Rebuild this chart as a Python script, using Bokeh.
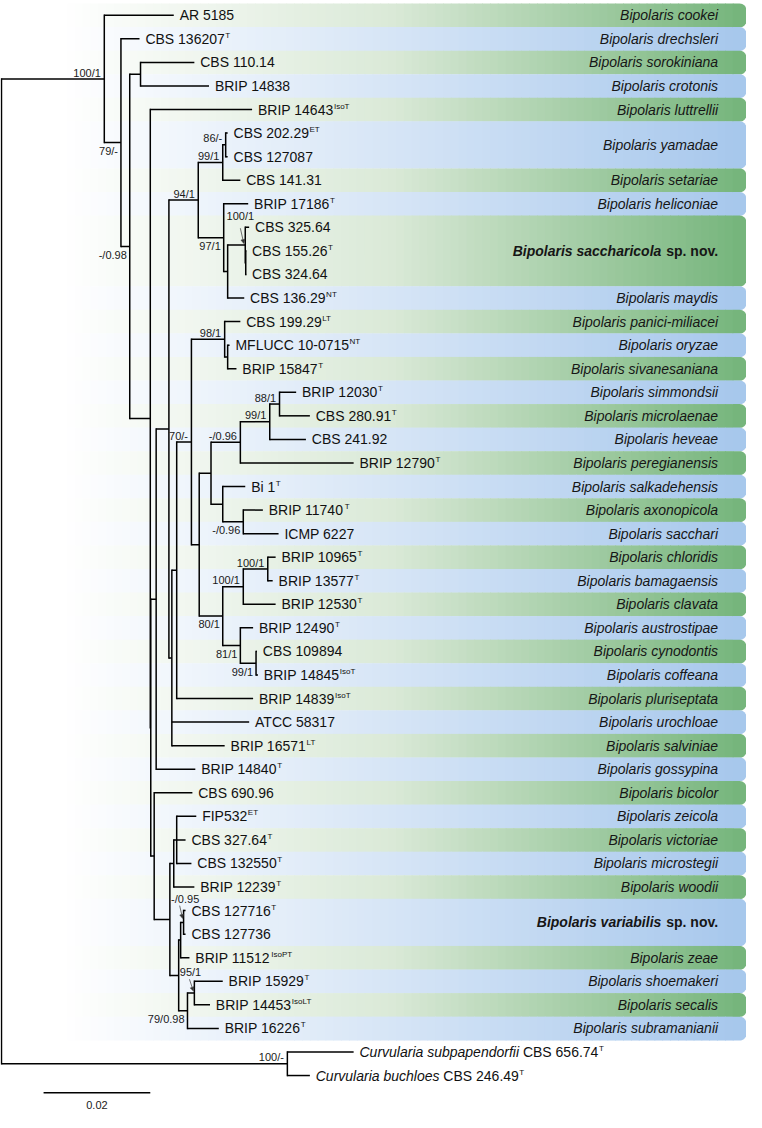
import math
from bokeh.plotting import figure
from bokeh.models import Range1d, Arrow, NormalHead
from bokeh.core.properties import value
from bokeh.embed import file_html
from bokeh.resources import INLINE

# ---------------------------------------------------------------- data
leaf_names = ["AR 5185", "CBS 136207", "CBS 110.14", "BRIP 14838", "BRIP 14643",
              "CBS 202.29", "CBS 127087", "CBS 141.31", "BRIP 17186", "CBS 325.64",
              "CBS 155.26", "CBS 324.64", "CBS 136.29", "CBS 199.29", "MFLUCC 10-0715",
              "BRIP 15847", "BRIP 12030", "CBS 280.91", "CBS 241.92", "BRIP 12790",
              "Bi 1", "BRIP 11740", "ICMP 6227", "BRIP 10965", "BRIP 13577",
              "BRIP 12530", "BRIP 12490", "CBS 109894", "BRIP 14845", "BRIP 14839",
              "ATCC 58317", "BRIP 16571", "BRIP 14840", "CBS 690.96", "FIP532",
              "CBS 327.64", "CBS 132550", "BRIP 12239", "CBS 127716", "CBS 127736",
              "BRIP 11512", "BRIP 15929", "BRIP 14453", "BRIP 16226",
              "CBS 656.74", "CBS 246.49"]
leaf_prefix = [""] * 44 + ["Curvularia subpapendorfii", "Curvularia buchloes"]
leaf_sup = ["", "T", "", "", "IsoT", "ET", "", "", "T", "", "T", "", "NT", "LT", "NT",
            "T", "T", "T", "", "T", "T", "T", "", "T", "T", "T", "T", "", "IsoT", "IsoT",
            "", "LT", "T", "", "ET", "T", "T", "T", "T", "", "IsoPT", "T", "IsoLT", "T",
            "T", "T"]
leaf_parent = ["A", "B", "D", "D", "E", "N86", "N86", "N99a", "N97", "S100",
               "S100i", "S100i", "M", "N98", "N98i", "N98i", "N88", "N88", "N99b", "N096a",
               "U", "N096b", "N096b", "N100b", "N100b", "N100a", "N81", "N99c", "N99c", "V",
               "W", "W", "F", "H", "AB", "AB", "AB", "AC", "N095", "N095",
               "Z", "N95", "N95", "N7998", "CURV", "CURV"]
leaf_depth = [0.03229, 0.02587, 0.03615, 0.03890, 0.04697, 0.04239, 0.04239, 0.04477,
              0.04624, 0.04642, 0.04587, 0.04587, 0.04550, 0.04477, 0.04275, 0.04404,
              0.05523, 0.05780, 0.05706, 0.06600, 0.04569, 0.04899, 0.05193, 0.05138,
              0.05083, 0.05138, 0.04716, 0.04789, 0.04807, 0.04716, 0.04642, 0.04183,
              0.03633, 0.03578, 0.03651, 0.03450, 0.03560, 0.03615, 0.03450, 0.03450,
              0.03523, 0.04147, 0.03908, 0.04073, 0.06600, 0.05780]

node_ids = ["root", "A", "B", "C", "D", "E", "X", "F", "G", "N94", "N99a", "N86", "N97",
            "M", "S100", "S100i", "W", "V", "Q", "N98", "N98i", "R", "Sn", "N096a",
            "N99b", "N88", "U", "N096b", "N80", "N100a", "N100b", "N81", "N99c", "H",
            "AA", "AC", "AB", "Y", "Z", "N095", "N7998", "N95", "CURV"]
node_parent = [None, "root", "A", "B", "C", "C", "E", "X", "F", "G", "N94", "N99a", "N94",
               "N97", "M", "S100", "G", "W", "V", "Q", "N98", "Q", "R", "Sn",
               "N096a", "N99b", "Sn", "U", "R", "N80", "N100a", "N80", "N81", "X",
               "H", "AA", "AC", "AA", "Y", "Z", "Y", "N7998", "root"]
node_depth = [0.0, 0.01927, 0.02239, 0.02404, 0.02606, 0.02789, 0.02798, 0.02899, 0.03138,
              0.03688, 0.04147, 0.04202, 0.04165, 0.04239, 0.04569, 0.04578, 0.03193,
              0.03284, 0.03560, 0.04183, 0.04239, 0.03706, 0.03927, 0.04477, 0.05028,
              0.05211, 0.04147, 0.04532, 0.04147, 0.04532, 0.04991, 0.04477, 0.04771,
              0.02862, 0.03156, 0.03229, 0.03284, 0.03321, 0.03358, 0.03413, 0.03486,
              0.03615, 0.05358]
node_support = ["", "100/1", "79/-", "-/0.98", "", "", "", "", "", "94/1", "99/1", "86/-",
                "97/1", "", "100/1", "", "", "", "70/-", "98/1", "", "", "", "-/0.96",
                "99/1", "88/1", "", "-/0.96", "80/1", "100/1", "100/1", "81/1", "99/1", "",
                "", "", "", "", "", "-/0.95", "79/0.98", "95/1", "100/-"]

band_names = ["Bipolaris cookei", "Bipolaris drechsleri", "Bipolaris sorokiniana",
              "Bipolaris crotonis", "Bipolaris luttrellii", "Bipolaris yamadae",
              "Bipolaris setariae", "Bipolaris heliconiae", "Bipolaris saccharicola",
              "Bipolaris maydis", "Bipolaris panici-miliacei", "Bipolaris oryzae",
              "Bipolaris sivanesaniana", "Bipolaris simmondsii", "Bipolaris microlaenae",
              "Bipolaris heveae", "Bipolaris peregianensis", "Bipolaris salkadehensis",
              "Bipolaris axonopicola", "Bipolaris sacchari", "Bipolaris chloridis",
              "Bipolaris bamagaensis", "Bipolaris clavata", "Bipolaris austrostipae",
              "Bipolaris cynodontis", "Bipolaris coffeana", "Bipolaris pluriseptata",
              "Bipolaris urochloae", "Bipolaris salviniae", "Bipolaris gossypina",
              "Bipolaris bicolor", "Bipolaris zeicola", "Bipolaris victoriae",
              "Bipolaris microstegii", "Bipolaris woodii", "Bipolaris variabilis",
              "Bipolaris zeae", "Bipolaris shoemakeri", "Bipolaris secalis",
              "Bipolaris subramanianii"]
band_first = [0, 1, 2, 3, 4, 5, 7, 8, 9, 12, 13, 14, 15, 16, 17, 18, 19, 20, 21, 22,
              23, 24, 25, 26, 27, 28, 29, 30, 31, 32, 33, 34, 35, 36, 37, 38, 40, 41, 42, 43]
band_last = [0, 1, 2, 3, 4, 6, 7, 8, 11, 12, 13, 14, 15, 16, 17, 18, 19, 20, 21, 22,
             23, 24, 25, 26, 27, 28, 29, 30, 31, 32, 33, 34, 35, 36, 37, 39, 40, 41, 42, 43]
band_new = ["", "", "", "", "", "", "", "", "sp. nov.", "", "", "", "", "", "", "", "", "",
            "", "", "", "", "", "", "", "", "", "", "", "", "", "", "", "", "",
            "sp. nov.", "", "", "", ""]

scale_length = 0.02
scale_label = "0.02"

# ---------------------------------------------------------------- geometry / style
PXU = 5450.0          # reference px per unit of branch length (0.02 -> 109 px)
ROW = 23.9            # reference px per row
REF_W, REF_H = 762, 1128
W, H = 746, 1112
SX = W / REF_W
SY = H / REF_H


def xd(X):   # reference pixel x -> data
    return (X - 1) / PXU


def yd(Y):   # reference pixel y -> row
    return (Y - 15) / ROW


FONT = value("Liberation Sans")
REG = {' ': 278, '-': 333, '.': 278, '/': 278}
for c in "0123456789":
    REG[c] = 556
REG.update(dict(zip("ABCDEFGHIJKLMNOPQRSTUVWXYZ",
                    [667, 667, 722, 722, 667, 611, 778, 722, 278, 500, 667, 556, 833, 722,
                     778, 667, 778, 722, 667, 611, 722, 667, 944, 667, 667, 611])))
REG.update(dict(zip("abcdefghijklmnopqrstuvwxyz",
                    [556, 556, 500, 556, 556, 278, 556, 556, 222, 222, 500, 222, 833, 556,
                     556, 556, 556, 333, 500, 278, 556, 500, 722, 500, 500, 500])))
BOLD = {' ': 278, '.': 278, 'B': 722}
BOLD.update(dict(zip("abcdefghijklmnopqrstuvwxyz",
                     [556, 611, 556, 611, 556, 333, 611, 611, 278, 278, 556, 278, 889, 611,
                      611, 611, 611, 389, 556, 333, 611, 556, 778, 556, 556, 500])))


def tw(s, size, table=REG):
    return sum(table.get(c, 556) for c in s) / 1000.0 * size


# ---------------------------------------------------------------- tree layout
depth, parent, children, ypos = {}, {}, {}, {}
for nid, par, d in zip(node_ids, node_parent, node_depth):
    depth[nid] = d
    parent[nid] = par
    children.setdefault(nid, [])
    if par is not None:
        children.setdefault(par, []).append(nid)
for i, (par, d) in enumerate(zip(leaf_parent, leaf_depth)):
    key = ("leaf", i)
    depth[key] = d
    parent[key] = par
    ypos[key] = float(i)
    children.setdefault(par, []).append(key)


def gety(n):
    if n not in ypos:
        ys = [gety(c) for c in children[n]]
        ypos[n] = (min(ys) + max(ys)) / 2.0
    return ypos[n]


gety("root")

p = figure(width=W, height=H, x_range=Range1d(xd(0), xd(REF_W)),
           y_range=Range1d(yd(REF_H), yd(0)), x_axis_type=None, y_axis_type=None,
           toolbar_location=None, output_backend="svg", min_border=0)
p.outline_line_color = None
p.background_fill_color = "white"
p.border_fill_color = "white"
p.xgrid.visible = False
p.ygrid.visible = False

# ---------------------------------------------------------------- bands (gradient)
GREEN = [(60, (255, 255, 255)), (400, (218, 233, 215)), (762, (116, 180, 122))]
BLUE = [(60, (255, 255, 255)), (400, (214, 229, 246)), (762, (166, 199, 236))]


def lerp(X, stops):
    for (xa, ca), (xb, cb) in zip(stops[:-1], stops[1:]):
        if X <= xb:
            t = max(0.0, (X - xa) / (xb - xa))
            return "#%02x%02x%02x" % tuple(int(round(a + (b - a) * t)) for a, b in zip(ca, cb))
    return "#%02x%02x%02x" % stops[-1][1]


STEP = 8
X_START, X_ROUND, X_END, RAD = 60, 748, 762, 7.0
ql, qr, qt, qb, qc = [], [], [], [], []
pxs, pys, pcs = [], [], []
for k in range(len(band_names)):
    stops = GREEN if k % 2 == 0 else BLUE
    top = band_first[k] - 0.5
    bot = band_last[k] + 0.5
    Xa = X_START
    while Xa < X_ROUND:
        Xb = min(Xa + STEP, X_ROUND)
        ql.append(xd(Xa))
        qr.append(xd(Xb + 0.8))
        qt.append(top)
        qb.append(bot + 0.015)
        qc.append(lerp((Xa + Xb) / 2, stops))
        Xa = Xb
    # rounded right end
    top_px = 15 + top * ROW
    bot_px = 15 + (bot + 0.015) * ROW
    xs = [X_ROUND, X_END - RAD]
    ys = [top_px, top_px]
    cx, cy = X_END - RAD, top_px + RAD
    for j in range(1, 9):
        a = -math.pi / 2 + j * (math.pi / 2) / 8
        xs.append(cx + RAD * math.cos(a))
        ys.append(cy + RAD * math.sin(a))
    cx, cy = X_END - RAD, bot_px - RAD
    for j in range(0, 9):
        a = j * (math.pi / 2) / 8
        xs.append(cx + RAD * math.cos(a))
        ys.append(cy + RAD * math.sin(a))
    xs.append(X_ROUND)
    ys.append(bot_px)
    pxs.append([xd(v) for v in xs])
    pys.append([yd(v) for v in ys])
    pcs.append(lerp(755, stops))

p.quad(left=ql, right=qr, top=qt, bottom=qb, fill_color=qc, line_color=None)
p.patches(xs=pxs, ys=pys, fill_color=pcs, line_color=None)

# band texts
RIGHT_OFF = -(REF_W - 733) * SX
bt_x, bt_y, bt_t = [], [], []
nb_x, nb_y, nb_t, nb_o = [], [], [], []
ns_x, ns_y, ns_t = [], [], []
for k, nm in enumerate(band_names):
    yc = (band_first[k] + band_last[k]) / 2.0
    if band_new[k]:
        ns_x.append(xd(REF_W)); ns_y.append(yc); ns_t.append(band_new[k])
        nb_x.append(xd(REF_W)); nb_y.append(yc); nb_t.append(nm)
        nb_o.append(RIGHT_OFF - tw(" " + band_new[k], 14, BOLD))
    else:
        bt_x.append(xd(REF_W)); bt_y.append(yc); bt_t.append(nm)

common = dict(text_font=FONT, text_font_size="14px", text_baseline="middle",
              text_align="right", text_color="#161616")
p.text(x=bt_x, y=bt_y, text=bt_t, x_offset=RIGHT_OFF, text_font_style="italic", **common)
p.text(x=nb_x, y=nb_y, text=nb_t, x_offset=nb_o, text_font_style="bold italic", **common)
p.text(x=ns_x, y=ns_y, text=ns_t, x_offset=RIGHT_OFF, text_font_style="bold", **common)

# ---------------------------------------------------------------- tree lines
hx0, hx1, hy = [], [], []
for n in depth:
    if parent[n] is None:
        continue
    hx0.append(depth[parent[n]]); hx1.append(depth[n]); hy.append(ypos[n])
vx, vy0, vy1 = [], [], []
for n in node_ids:
    ys = [ypos[c] for c in children[n]]
    vx.append(depth[n]); vy0.append(min(ys)); vy1.append(max(ys))
p.segment(x0=hx0, y0=hy, x1=hx1, y1=hy, line_color="black", line_width=1.5, line_cap="butt")
p.segment(x0=vx, y0=vy0, x1=vx, y1=vy1, line_color="black", line_width=1.5, line_cap="square")

# ---------------------------------------------------------------- leaf labels
GAP = 6 * SX
m_x, m_y, m_t, m_o = [], [], [], []
i_x, i_y, i_t, i_o = [], [], [], []
s_x, s_y, s_t, s_o = [], [], [], []
for i, nm in enumerate(leaf_names):
    off = GAP
    if leaf_prefix[i]:
        i_x.append(leaf_depth[i]); i_y.append(i); i_t.append(leaf_prefix[i]); i_o.append(off)
        off += tw(leaf_prefix[i] + " ", 14)
    m_x.append(leaf_depth[i]); m_y.append(i); m_t.append(nm); m_o.append(off)
    off += tw(nm, 14) + 0.5
    if leaf_sup[i]:
        s_x.append(leaf_depth[i]); s_y.append(i); s_t.append(leaf_sup[i]); s_o.append(off)

lab = dict(text_font=FONT, text_baseline="middle", text_align="left", text_color="#111111")
p.text(x=m_x, y=m_y, text=m_t, x_offset=m_o, text_font_size="14px", **lab)
p.text(x=i_x, y=i_y, text=i_t, x_offset=i_o, text_font_size="14px",
       text_font_style="italic", **lab)
p.text(x=s_x, y=s_y, text=s_t, x_offset=s_o, y_offset=-3.5, text_font_size="8px", **lab)

# ---------------------------------------------------------------- support values
below_nodes = {"B", "C", "N97", "N096b", "N80", "N81", "N99c", "N7998"}
arrow_nodes = {"S100": ((9, -29), (-5, -17), (-1.5, -1.5)),
               "N095": ((16, -24), (-4, -17), (-1, -4)),
               "N95": ((7, -21), (-5, -14), (-1, -2))}
su_x, su_y, su_t, su_xo, su_yo = [], [], [], [], []
for nid, sup in zip(node_ids, node_support):
    if not sup:
        continue
    if nid in arrow_nodes:
        (lx, ly), (ax0, ay0), (ax1, ay1) = arrow_nodes[nid]
        xo, yo = lx * SX, ly * SY
        p.add_layout(Arrow(x_start=depth[nid] + ax0 / PXU, y_start=ypos[nid] + ay0 / ROW,
                           x_end=depth[nid] + ax1 / PXU, y_end=ypos[nid] + ay1 / ROW,
                           line_width=0.7, line_color="#333333",
                           end=NormalHead(size=4, fill_color="#333333",
                                          line_color="#333333", line_width=0.5)))
    elif nid in below_nodes:
        xo, yo = -3 * SX, 8.5 * SY
    else:
        xo, yo = -3.5 * SX, -6.5 * SY
    su_x.append(depth[nid]); su_y.append(ypos[nid]); su_t.append(sup)
    su_xo.append(xo); su_yo.append(yo)
p.text(x=su_x, y=su_y, text=su_t, x_offset=su_xo, y_offset=su_yo, text_font=FONT,
       text_font_size="11px", text_align="right", text_baseline="middle",
       text_color="#1a1a1a")

# ---------------------------------------------------------------- scale bar
sb_x0 = xd(44)
p.segment(x0=[sb_x0], y0=[yd(1108)], x1=[sb_x0 + scale_length], y1=[yd(1108)],
          line_color="black", line_width=1.5)
p.text(x=[sb_x0 + scale_length / 2], y=[yd(1120)], text=[scale_label], text_font=FONT,
       text_font_size="11px", text_align="center", text_baseline="middle",
       text_color="#1a1a1a")

open("out.html", "w").write(file_html(p, INLINE))
